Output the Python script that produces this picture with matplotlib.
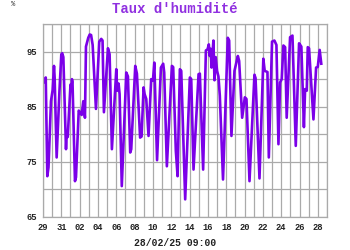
import matplotlib
matplotlib.use("Agg")
import matplotlib.pyplot as plt
import matplotlib.dates as mdates
import pandas as pd
import numpy as np

# Elapsed days since 29/01/25 00:00 and relative humidity (%)
elapsed_days = [
    0.11, 0.30, 0.47, 0.60, 0.87, 1.05, 1.20, 1.27, 1.49, 1.80, 2.00, 2.10, 2.22,
    2.51, 2.58, 2.70, 3.00, 3.10, 3.16, 3.22, 3.49, 3.60, 3.90, 4.03, 4.22, 4.40,
    4.58, 4.69, 4.94, 5.10, 5.25, 5.42, 5.78, 6.14, 6.36, 6.50, 6.65, 7.09, 7.27,
    7.52, 8.00, 8.10, 8.25, 8.36, 8.60, 9.09, 9.27, 9.52, 9.63, 10.07, 10.25,
    10.60, 10.76, 10.98, 11.09, 11.27, 11.52, 11.81, 12.00, 12.15, 12.45, 12.87,
    13.12, 13.23, 13.52, 14.07, 14.21, 14.50, 14.69, 14.94, 15.09, 15.52, 16.03,
    16.18, 16.43, 16.98, 17.12, 17.48, 17.78, 17.96, 18.10, 18.20, 18.30, 18.40,
    18.60, 18.72, 18.85, 19.00, 19.15, 19.30, 19.50, 19.65, 20.17, 20.32, 20.57,
    20.90, 21.27, 21.41, 21.74, 22.03, 22.21, 22.54, 23.08, 23.20, 23.63, 24.05,
    24.20, 24.50, 24.65, 25.00, 25.26, 25.48, 25.70, 25.88, 26.06, 26.24, 26.43,
    26.60, 26.97, 27.23, 27.59, 27.95, 28.20, 28.48, 28.61, 28.79, 28.90, 29.04,
    29.52, 29.81, 29.99, 30.20, 30.375,
]
humidity = [
    89.5, 90.3, 72.4, 74.0, 86.0, 88.0, 92.4, 90.3, 75.8, 88.0, 94.5, 94.7, 94.0,
    77.3, 79.8, 79.5, 89.0, 88.2, 90.0, 89.5, 71.5, 72.2, 84.3, 84.0, 83.5, 86.0,
    83.0, 95.9, 97.5, 98.1, 98.0, 96.2, 84.6, 96.8, 97.3, 97.0, 84.0, 95.6, 94.5,
    77.3, 91.8, 87.9, 89.2, 87.3, 70.6, 91.2, 90.5, 76.7, 77.3, 92.4, 91.0, 79.4,
    79.6, 88.5, 87.3, 86.4, 79.7, 90.0, 89.7, 93.0, 75.3, 92.1, 92.8, 91.2, 74.2,
    92.4, 92.2, 77.0, 72.4, 91.8, 91.5, 68.2, 90.3, 90.0, 73.6, 90.9, 91.0, 73.6,
    95.2, 95.4, 96.3, 94.2, 95.5, 92.1, 97.0, 89.8, 94.0, 91.5, 90.5, 87.0, 78.5,
    71.8, 97.5, 97.0, 79.7, 91.5, 94.2, 93.3, 83.0, 86.7, 86.4, 71.5, 90.8, 90.2,
    72.0, 93.7, 91.5, 91.3, 75.8, 96.8, 97.0, 96.2, 78.2, 89.4, 90.0, 96.1, 95.8,
    83.0, 97.6, 97.9, 77.9, 96.5, 95.9, 81.3, 88.2, 87.9, 95.8, 95.6, 82.7, 92.1,
    92.2, 95.3, 92.8,
]
y_ticks = [65, 75, 85, 95]
title_text = "Taux d'humidit\u00e9"
unit_text = "%"
stamp_text = "28/02/25 09:00"

start = pd.Timestamp("2025-01-29 00:00")
end = pd.Timestamp("2025-03-01 00:00")
times = [start + pd.Timedelta(days=d) for d in elapsed_days]

line_color = "#7B00E8"
title_color = "#9030E0"
grid_color = "#AAAAAA"
mono = ["Liberation Mono", "DejaVu Sans Mono"]

fig = plt.figure(figsize=(3.5, 2.5), dpi=100)
ax = fig.add_axes([43 / 350, 1 - 217 / 250, 284 / 350, 193 / 250])

ax.plot(times, humidity, color=line_color, lw=1.9, solid_joinstyle="round")

ax.set_xlim(start, end)
ax.set_ylim(65, 100)

major_x = pd.date_range("2025-01-29", "2025-02-28", freq="2D")
minor_x = pd.date_range("2025-01-29", "2025-03-01", freq="1D")
ax.set_xticks(major_x)
ax.set_xticks(minor_x, minor=True)
ax.xaxis.set_major_formatter(mdates.DateFormatter("%d"))
ax.set_yticks(y_ticks)
ax.set_yticks(np.arange(65, 101, 5), minor=True)

ax.grid(True, which="both", color=grid_color, lw=0.9)
ax.set_axisbelow(True)
ax.tick_params(which="both", length=0)
ax.tick_params(axis="x", pad=4)
ax.tick_params(axis="y", pad=4)
for lab in ax.get_xticklabels() + ax.get_yticklabels():
    lab.set_fontfamily(mono)
    lab.set_fontweight("bold")
    lab.set_fontsize(6.3)
    lab.set_color("#222222")
for sp in ax.spines.values():
    sp.set_color(grid_color)
    sp.set_linewidth(0.9)

fig.text(0.5, 1 - 9 / 250, title_text, ha="center", va="center",
         family=mono, fontweight="bold", fontsize=10, color=title_color)
fig.text(13 / 350, 1 - 5 / 250, unit_text, ha="center", va="center",
         family=mono, fontsize=5, color="#333333")
fig.text(0.5, 1 - 243 / 250, stamp_text, ha="center", va="center",
         family=mono, fontweight="bold", fontsize=7, color="#222222")

fig.savefig("out.png", dpi=100)
